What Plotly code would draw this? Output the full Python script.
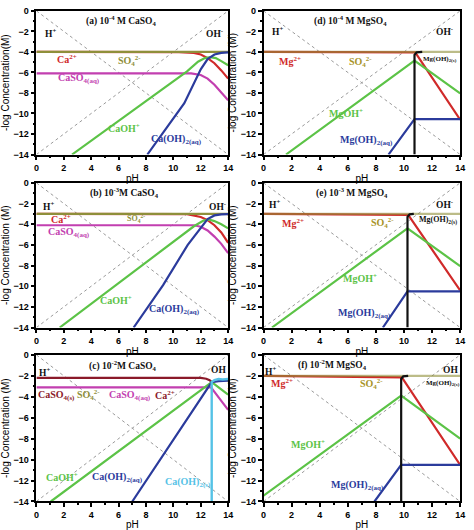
import plotly.graph_objects as go
from plotly.subplots import make_subplots

# ---------------- data ----------------
diag_ph = [0, 14]
h_plus = [0, -14]
oh_minus = [-14, 0]

# (a) 1e-4 M CaSO4
a_so4_ph = [0, 14]; a_so4 = [-4, -4]
a_ca_ph = [0, 10.4, 11.5, 12, 12.5, 13, 13.5, 14]
a_ca = [-4, -4.02, -4.1, -4.25, -4.6, -5.1, -5.8, -6.6]
a_caso4_ph = [0, 11.3, 12, 12.5, 13, 13.5, 14]
a_caso4 = [-6.1, -6.1, -6.25, -6.6, -7.2, -7.9, -8.7]
a_caoh_ph = [2.6, 11, 11.8, 12.3, 12.7, 13.1, 13.5, 14]
a_caoh = [-14, -5.9, -4.95, -4.6, -4.5, -4.6, -4.9, -5.3]
a_caoh2_ph = [8.1, 10.8, 12, 12.5, 13, 13.5, 14]
a_caoh2 = [-14, -9.0, -5.7, -4.7, -4.25, -4.1, -4.05]

# (b) 1e-3 M CaSO4
b_so4_ph = [0, 14]; b_so4 = [-3, -3]
b_ca_ph = [0, 11, 12, 12.5, 13, 13.5, 14]
b_ca = [-3, -3.02, -3.3, -3.6, -4.1, -4.8, -5.8]
b_caso4_ph = [0, 11.5, 12, 12.5, 13, 13.5, 14]
b_caso4 = [-4.1, -4.1, -4.25, -4.6, -5.2, -5.9, -6.8]
b_caoh_ph = [1.7, 11.5, 12.2, 12.6, 13, 13.5, 14]
b_caoh = [-14, -4.2, -3.65, -3.55, -3.7, -4.0, -4.4]
b_caoh2_ph = [7.1, 9.25, 11.05, 12, 12.5, 13, 13.5, 14]
b_caoh2 = [-14, -9.9, -6.0, -4.3, -3.5, -3.15, -3.05, -3.03]

# (c) 1e-2 M CaSO4
c_cas_ph = [0, 12, 12.4, 12.65, 12.8]
c_cas = [-2.2, -2.2, -2.28, -2.42, -2.6]
c_caso4_ph = [0, 12.75, 14]
c_caso4 = [-3.1, -3.1, -5.25]
c_caoh_ph = [1.05, 12.8, 14]
c_caoh = [-14, -2.6, -3.8]
c_caoh2_ph = [7.0, 12.8, 13.3, 14]
c_caoh2 = [-14, -2.6, -2.5, -2.45]
c_caoh2s_ph = [12.8, 12.8, 13.0, 13.3, 13.6, 14]
c_caoh2s = [-14, -2.6, -2.4, -2.3, -2.35, -2.3]

# (d) 1e-4 M MgSO4
d_so4_ph = [0, 14]; d_so4 = [-4, -4]
d_mg_ph = [0, 10.8, 14]; d_mg = [-4, -4.05, -10.6]
d_mgoh_ph = [1.6, 10.75, 14]; d_mgoh = [-14, -4.85, -8.05]
d_mgoh2aq_ph = [8.9, 10.75, 14]; d_mgoh2aq = [-14, -10.55, -10.55]
d_mgoh2s_ph = [10.75, 10.75, 10.9, 11.3]; d_mgoh2s = [-14, -4.3, -4.05, -4.0]

# (e) 1e-3 M MgSO4
e_so4_ph = [0, 14]; e_so4 = [-3, -3]
e_mg_ph = [0, 10.3, 14]; e_mg = [-3, -3.1, -10.4]
e_mgoh_ph = [0.6, 10.25, 14]; e_mgoh = [-14, -4.4, -8.05]
e_mgoh2aq_ph = [8.5, 10.25, 14]; e_mgoh2aq = [-14, -10.5, -10.5]
e_mgoh2s_ph = [10.25, 10.25, 10.4, 10.7]; e_mgoh2s = [-14, -3.3, -3.05, -3.0]

# (f) 1e-2 M MgSO4
f_so4_ph = [0, 14]; f_so4 = [-2, -2]
f_mg_ph = [0, 9.85, 14]; f_mg = [-2, -2.15, -10.5]
f_mgoh_ph = [0, 9.8, 14]; f_mgoh = [-13.45, -3.9, -8.0]
f_mgoh2aq_ph = [7.9, 9.8, 14]; f_mgoh2aq = [-14, -10.5, -10.5]
f_mgoh2s_ph = [9.8, 9.8, 9.95, 10.3]; f_mgoh2s = [-14, -2.3, -2.05, -2.0]

# ---------------- styling ----------------
OLIVE = "#8f8f3a"
RED = "#d02a2a"
MAG = "#c23fb0"
GREEN = "#5cc347"
BLUE = "#2b3b9c"
CYAN = "#55c2e6"
MAROON = "#8b1a2a"
BLACK = "#111111"
GRAY = "#9a9a9a"
SERIF = "Liberation Serif"
SANS = "Liberation Sans"

fig = make_subplots(rows=3, cols=2)

# panel -> (row, col, axis suffix)
panels = {"a": (1, 1, ""), "d": (1, 2, "2"), "b": (2, 1, "3"),
          "e": (2, 2, "4"), "c": (3, 1, "5"), "f": (3, 2, "6")}


def line(p, x, y, color, width=2.2, dash=None, opacity=1.0):
    r, c, _ = panels[p]
    fig.add_trace(go.Scatter(x=x, y=y, mode="lines", showlegend=False,
                             opacity=opacity, hoverinfo="skip",
                             line=dict(color=color, width=width, dash=dash)),
                  row=r, col=c)


def label(p, x, y, text, color, size=10, family=SERIF):
    s = panels[p][2]
    fig.add_annotation(x=x, y=y, xref="x" + s, yref="y" + s, text="<b>" + text + "</b>",
                       showarrow=False, font=dict(color=color, size=size, family=family))


for p in panels:
    line(p, diag_ph, h_plus, GRAY, width=1, dash="dot")
    line(p, diag_ph, oh_minus, GRAY, width=1, dash="dot")

# (a)
line("a", a_ca_ph, a_ca, RED)
line("a", a_so4_ph, a_so4, OLIVE)
line("a", a_caso4_ph, a_caso4, MAG)
line("a", a_caoh_ph, a_caoh, GREEN)
line("a", a_caoh2_ph, a_caoh2, BLUE)
# (b)
line("b", b_ca_ph, b_ca, RED)
line("b", b_so4_ph, b_so4, OLIVE)
line("b", b_caso4_ph, b_caso4, MAG)
line("b", b_caoh_ph, b_caoh, GREEN)
line("b", b_caoh2_ph, b_caoh2, BLUE)
# (c)
line("c", c_cas_ph, c_cas, MAROON)
line("c", c_caso4_ph, c_caso4, MAG)
line("c", c_caoh_ph, c_caoh, GREEN)
line("c", c_caoh2_ph, c_caoh2, BLUE)
line("c", c_caoh2s_ph, c_caoh2s, CYAN, width=2.4)
# (d)
line("d", d_mg_ph, d_mg, RED)
line("d", d_so4_ph, d_so4, OLIVE, opacity=0.6)
line("d", d_mgoh_ph, d_mgoh, GREEN)
line("d", d_mgoh2aq_ph, d_mgoh2aq, BLUE)
line("d", d_mgoh2s_ph, d_mgoh2s, BLACK)
# (e)
line("e", e_mg_ph, e_mg, RED)
line("e", e_so4_ph, e_so4, OLIVE, opacity=0.6)
line("e", e_mgoh_ph, e_mgoh, GREEN)
line("e", e_mgoh2aq_ph, e_mgoh2aq, BLUE)
line("e", e_mgoh2s_ph, e_mgoh2s, BLACK)
# (f)
line("f", f_mg_ph, f_mg, RED)
line("f", f_so4_ph, f_so4, OLIVE, opacity=0.6)
line("f", f_mgoh_ph, f_mgoh, GREEN)
line("f", f_mgoh2aq_ph, f_mgoh2aq, BLUE)
line("f", f_mgoh2s_ph, f_mgoh2s, BLACK)

# labels
label("a", 6.2, -0.9, "(a) 10<sup>-4</sup> M CaSO<sub>4</sub>", BLACK, 9.5)
label("a", 1.0, -2.2, "H<sup>+</sup>", BLACK, 9.5)
label("a", 13.0, -2.2, "OH<sup>-</sup>", BLACK, 9.5)
label("a", 2.2, -4.7, "Ca<sup>2+</sup>", RED)
label("a", 6.8, -4.9, "SO<sub>4</sub><sup>2-</sup>", OLIVE)
label("a", 3.1, -6.6, "CaSO<sub>4(aq)</sub>", MAG)
label("a", 6.4, -11.4, "CaOH<sup>+</sup>", GREEN)
label("a", 10.2, -12.5, "Ca(OH)<sub>2(aq)</sub>", BLUE)

label("b", 6.4, -0.9, "(b) 10<sup>-3</sup>M CaSO<sub>4</sub>", BLACK, 9.5)
label("b", 0.9, -2.2, "H<sup>+</sup>", BLACK, 9.5)
label("b", 13.2, -2.2, "OH<sup>-</sup>", BLACK, 9.5)
label("b", 1.8, -3.5, "Ca<sup>2+</sup>", RED)
label("b", 7.3, -3.45, "SO<sub>4</sub><sup>2-</sup>", OLIVE, 8)
label("b", 2.4, -4.8, "CaSO<sub>4(aq)</sub>", MAG)
label("b", 5.8, -11.3, "CaOH<sup>+</sup>", GREEN)
label("b", 10.1, -12.3, "Ca(OH)<sub>2(aq)</sub>", BLUE)

label("c", 6.3, -1.0, "(c) 10<sup>-2</sup>M CaSO<sub>4</sub>", BLACK, 9.5)
label("c", 0.6, -1.6, "H<sup>+</sup>", BLACK, 9.5)
label("c", 13.3, -1.4, "OH", BLACK, 9.5)
label("c", 1.5, -3.85, "CaSO<sub>4(s)</sub>", MAROON)
label("c", 3.8, -3.85, "SO<sub>4</sub><sup>2-</sup>", OLIVE)
label("c", 6.8, -3.85, "CaSO<sub>4(aq)</sub>", MAG)
label("c", 9.4, -3.85, "Ca<sup>2+</sup>", MAROON)
label("c", 1.9, -11.7, "CaOH<sup>+</sup>", GREEN)
label("c", 5.9, -11.7, "Ca(OH)<sub>2(aq)</sub>", BLUE)
label("c", 11.1, -12.2, "Ca(OH)<sub>2(s)</sub>", CYAN)

label("d", 6.2, -0.9, "(d) 10<sup>-4</sup> M MgSO<sub>4</sub>", BLACK, 9.5)
label("d", 1.0, -2.0, "H<sup>+</sup>", BLACK, 9.5)
label("d", 12.9, -2.0, "OH<sup>-</sup>", BLACK, 9.5)
label("d", 1.9, -4.9, "Mg<sup>2+</sup>", RED)
label("d", 6.9, -5.0, "SO<sub>4</sub><sup>2-</sup>", "#a89428")
label("d", 12.6, -4.7, "Mg(OH)<sub>2(s)</sub>", BLACK, 7)
label("d", 5.9, -10.0, "MgOH<sup>+</sup>", GREEN)
label("d", 7.3, -12.6, "Mg(OH)<sub>2(aq)</sub>", BLUE)

label("e", 6.3, -0.9, "(e) 10<sup>-3</sup> M MgSO<sub>4</sub>", BLACK, 9.5)
label("e", 0.8, -2.0, "H<sup>+</sup>", BLACK, 9.5)
label("e", 12.9, -2.0, "OH<sup>-</sup>", BLACK, 9.5)
label("e", 2.1, -3.9, "Mg<sup>2+</sup>", RED)
label("e", 8.5, -3.9, "SO<sub>4</sub><sup>2-</sup>", "#a89428")
label("e", 12.4, -3.6, "Mg(OH)<sub>2(s)</sub>", BLACK, 8)
label("e", 6.9, -9.2, "MgOH<sup>+</sup>", GREEN)
label("e", 7.2, -12.6, "Mg(OH)<sub>2(aq)</sub>", BLUE)

label("f", 4.9, -0.95, "(f) 10<sup>-2</sup>M MgSO<sub>4</sub>", BLACK, 9.5)
label("f", 0.5, -1.5, "H<sup>+</sup>", BLACK, 9.5)
label("f", 13.3, -1.4, "OH", BLACK, 9.5)
label("f", 1.3, -2.7, "Mg<sup>2+</sup>", RED)
label("f", 7.7, -2.8, "SO<sub>4</sub><sup>2-</sup>", "#a89428")
label("f", 12.8, -2.7, "Mg(OH)<sub>2(s)</sub>", BLACK, 7)
label("f", 3.2, -8.5, "MgOH<sup>+</sup>", GREEN)
label("f", 6.7, -12.5, "Mg(OH)<sub>2(aq)</sub>", BLUE)

# ---------------- axes / layout ----------------
W, H = 474, 530
xdom = {1: [34 / W, 229 / W], 2: [265 / W, 465 / W]}
ydom = {1: [1 - 153 / H, 1 - 6 / H], 2: [1 - 330 / H, 1 - 182 / H], 3: [1 - 508 / H, 1 - 358 / H]}
ytitles = {"a": "-log Concentration(M)"}

for p, (r, c, s) in panels.items():
    fig.update_xaxes(row=r, col=c, domain=xdom[c], range=[0, 14], tickvals=[0, 2, 4, 6, 8, 10, 12, 14],
                     showline=True, mirror=True, linecolor="black", linewidth=1.5,
                     ticks="outside", ticklen=4, tickcolor="black", tickwidth=1.5,
                     minor=dict(dtick=1, ticks="outside", ticklen=2, tickcolor="black"),
                     showgrid=False, zeroline=False,
                     tickfont=dict(family=SANS, size=9, color="black", weight="bold"),
                     title=dict(text="pH", standoff=3, font=dict(family=SANS, size=10, color="black")))
    fig.update_yaxes(row=r, col=c, domain=ydom[r], range=[-14, 0],
                     tickvals=[0, -2, -4, -6, -8, -10, -12, -14],
                     showline=True, mirror=True, linecolor="black", linewidth=1.5,
                     ticks="outside", ticklen=4, tickcolor="black", tickwidth=1.5,
                     minor=dict(dtick=1, ticks="outside", ticklen=2, tickcolor="black"),
                     showgrid=False, zeroline=False,
                     tickfont=dict(family=SANS, size=9, color="black", weight="bold"),
                     title=dict(text=ytitles.get(p, "-log Concentration (M)"), standoff=2,
                                font=dict(family=SANS, size=10, color="black")))

fig.update_layout(width=W, height=H, margin=dict(l=0, r=0, t=0, b=0),
                  paper_bgcolor="white", plot_bgcolor="white", showlegend=False)

fig.write_html("out.html", config={"displayModeBar": False},
               post_script="document.body.style.margin='0';document.body.style.padding='0';")
